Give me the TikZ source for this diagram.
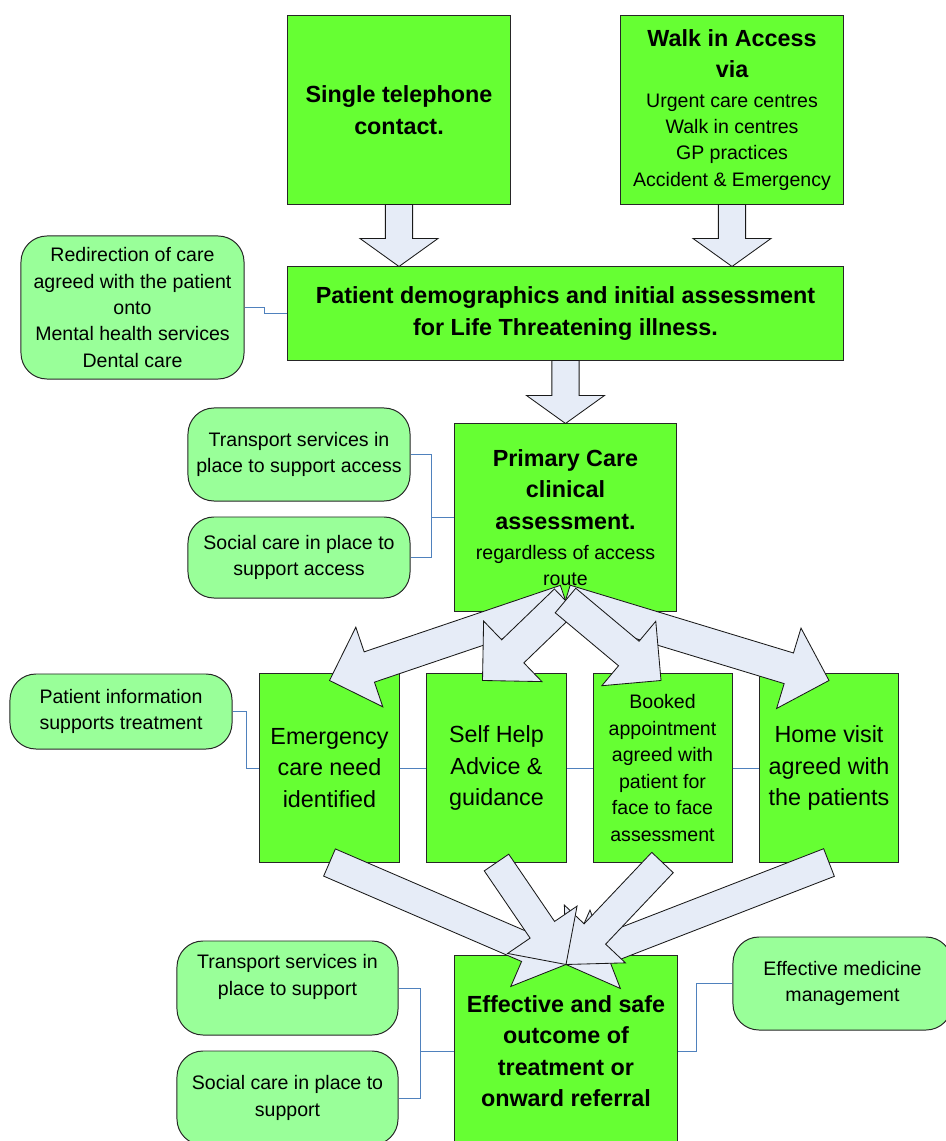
\documentclass[tikz,border=0pt]{standalone}
\usepackage{fontspec}
\setmainfont{Liberation Sans}
\usepackage{xcolor}
\usepackage{tikz}
\usetikzlibrary{calc}
\definecolor{maingreen}{RGB}{102,255,51}
\definecolor{sidegreen}{RGB}{153,255,153}
\definecolor{arrowfill}{RGB}{230,236,247}
\definecolor{linkblue}{RGB}{79,129,189}
\newcommand{\bigtxt}{\fontsize{16.6}{22.3}\selectfont}
\newcommand{\smalltxt}{\fontsize{13.9}{18.8}\selectfont}
% block arrow: tail, tip, shaft half width, head half width, head length
\newcommand{\fatarrow}[5]{%
    \coordinate (fa-base) at ($(#2)!#5!(#1)$);
    \draw[blockarrow] ($(#1)!#3!90:(#2)$) -- ($(fa-base)!#3!90:(#2)$)
        -- ($(fa-base)!#4!90:(#2)$) -- (#2) -- ($(fa-base)!#4!-90:(#2)$)
        -- ($(fa-base)!#3!-90:(#2)$) -- ($(#1)!#3!-90:(#2)$) -- cycle;
}
\begin{document}
\begin{tikzpicture}[x=0.025cm, y=-0.025cm,
        mainbox/.style={draw=black!85, line width=0.7pt, fill=maingreen, align=center, inner sep=0pt},
        sidebox/.style={draw=black!85, line width=0.7pt, fill=sidegreen, rounded corners=0.65cm, align=center, inner sep=0pt, font=\smalltxt},
        link/.style={draw=linkblue, line width=0.7pt},
        blockarrow/.style={draw=black!90, line width=0.6pt, fill=arrowfill, line join=miter}]
        \useasboundingbox (0,0) rectangle (945,1141);

        % access boxes
        \node[mainbox, minimum width=5.55cm, minimum height=4.7cm, font=\bigtxt\bfseries] (phone) at (399,110) {Single telephone\\contact.};
        \node[mainbox, minimum width=5.55cm, minimum height=4.7cm, font=\smalltxt] (walkin) at (732,110)
            {{\bigtxt\bfseries Walk in Access}\\[3pt]{\bigtxt\bfseries via}\\[2.5pt]Urgent care centres\\Walk in centres\\GP practices\\Accident \& Emergency};
        \node[mainbox, minimum width=13.875cm, minimum height=2.325cm, font=\bigtxt\bfseries] (demog) at (565.5,313.5)
            {Patient demographics and initial assessment\\for Life Threatening illness.};
        \node[sidebox, minimum width=5.575cm, minimum height=3.575cm] (redirect) at (132.5,307.5)
            {Redirection of care\\agreed with the patient\\onto\\Mental health services\\Dental care};

        % assessment
        \node[mainbox, minimum width=5.525cm, minimum height=4.675cm, font=\bigtxt\bfseries] (primary) at (565.5,517.5)
            {Primary Care\\clinical\\assessment.\\[-1pt]{\smalltxt\mdseries regardless of access}\\[-3.9pt]{\smalltxt\mdseries route}};
        \node[sidebox, minimum width=5.55cm, minimum height=2.325cm] (transA) at (299,454.5) {Transport services in\\place to support access};
        \node[sidebox, minimum width=5.55cm, minimum height=2.025cm] (socialA) at (299,557.5) {Social care in place to\\support access};

        % options
        \node[sidebox, minimum width=5.55cm, minimum height=1.875cm] (patinfo) at (121,711.5) {Patient information\\supports treatment};
        \node[mainbox, minimum width=3.475cm, minimum height=4.7cm, font=\bigtxt] (emerg) at (329.5,768) {Emergency\\care need\\identified};
        \node[mainbox, minimum width=3.475cm, minimum height=4.7cm, font=\bigtxt] (selfhelp) at (496.5,768) {Self Help\\Advice \&\\guidance};
        \node[mainbox, minimum width=3.475cm, minimum height=4.7cm, font=\smalltxt] (booked) at (662.5,768)
            {Booked\\appointment\\agreed with\\patient for\\face to face\\assessment};
        \node[mainbox, minimum width=3.475cm, minimum height=4.7cm, font=\bigtxt] (home) at (829,768) {Home visit\\agreed with\\the patients};

        % outcome
        \node[mainbox, minimum width=5.55cm, minimum height=4.75cm, font=\bigtxt\bfseries] (outcome) at (566,1051)
            {Effective and safe\\outcome of\\treatment or\\onward referral};
        \node[sidebox, minimum width=5.525cm, minimum height=2.35cm] (transB) at (287.5,988) {Transport services in\\place to support\\\mbox{}};
        \node[sidebox, minimum width=5.525cm, minimum height=2.35cm] (socialB) at (287.5,1098) {Social care in place to\\support};
        \node[sidebox, minimum width=5.475cm, minimum height=2.325cm] (medicine) at (842.5,983.5) {Effective medicine\\management};

        % thin connectors
        \draw[link] (redirect.east) -- ++(20,0) |- (demog.west);
        \draw[link] (transA.east) -- ++(21,0) coordinate (jA) |- (socialA.east);
        \draw[link] (jA |- primary.west) -- (primary.west);
        \draw[link] (patinfo.east) -- ++(14,0) |- (emerg.west);
        \draw[link] (emerg.east) -- (selfhelp.west);
        \draw[link] (selfhelp.east) -- (booked.west);
        \draw[link] (booked.east) -- (home.west);
        \draw[link] (transB.east) -- ++(22,0) coordinate (jB) |- (socialB.east);
        \draw[link] (jB |- outcome.west) -- (outcome.west);
        \draw[link] (medicine.west) -- ++(-36,0) |- (outcome.east);

        % coordinates for block arrows
        \coordinate (phoneTip) at (phone.south |- demog.north);
        \coordinate (walkTip) at (walkin.south |- demog.north);
        \coordinate (demogTip) at (demog.south |- primary.north);
        \coordinate (fanout) at ($(primary.south)+(0,-11)$);
        \coordinate (tipE) at ($(emerg.north)+(0,7)$);
        \coordinate (tipS) at ($(selfhelp.north)+(-14,7)$);
        \coordinate (tipB) at ($(booked.north)+(-1.5,7)$);
        \coordinate (tipH) at ($(home.north)+(0,7)$);
        \coordinate (fanin) at ($(outcome.north)+(0,9)$);

        % block arrows
        \fatarrow{phone.south}{phoneTip}{0.34cm}{0.975cm}{0.7cm}
        \fatarrow{walkin.south}{walkTip}{0.34cm}{0.975cm}{0.7cm}
        \fatarrow{demog.south}{demogTip}{0.34cm}{0.975cm}{0.7cm}
        \fatarrow{fanout}{tipE}{0.4cm}{1.05cm}{1.05cm}
        \fatarrow{fanout}{tipH}{0.4cm}{1.05cm}{1.05cm}
        \fatarrow{fanout}{tipS}{0.4cm}{1.05cm}{1.05cm}
        \fatarrow{fanout}{tipB}{0.4cm}{1.05cm}{1.05cm}
        \fatarrow{emerg.south}{fanin}{0.37cm}{1.05cm}{1.05cm}
        \fatarrow{home.south}{fanin}{0.37cm}{1.05cm}{1.05cm}
        \fatarrow{booked.south}{fanin}{0.37cm}{1.05cm}{1.05cm}
        \fatarrow{selfhelp.south}{fanin}{0.37cm}{1.05cm}{1.05cm}
    \end{tikzpicture}
\end{document}
